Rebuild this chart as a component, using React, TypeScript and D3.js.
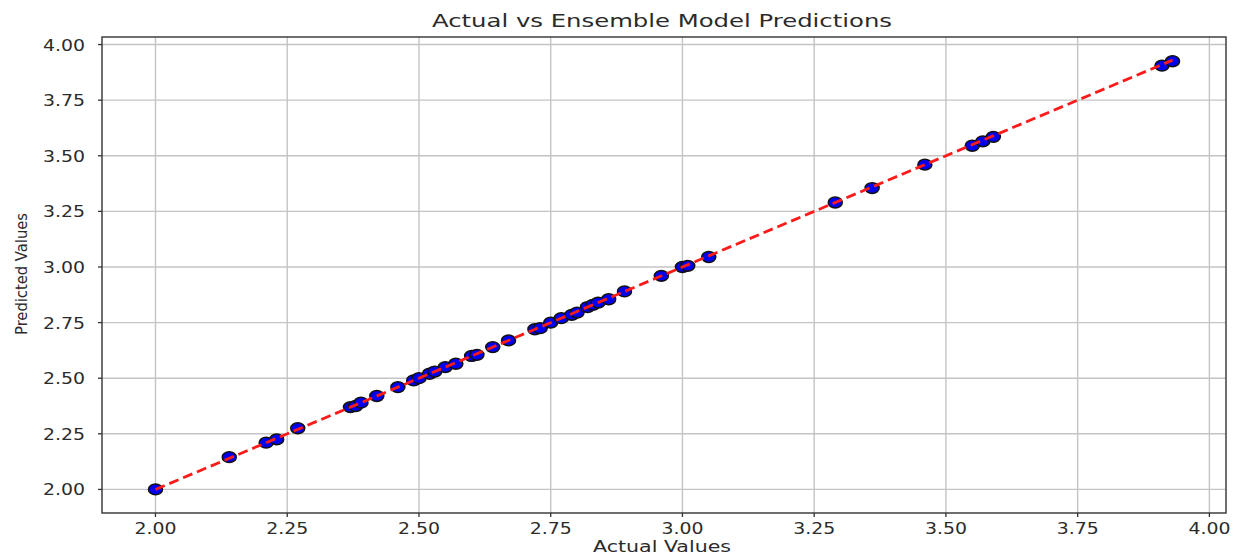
import React from "react";
import * as d3 from "d3";

const actual = [
  2.0, 2.14, 2.21, 2.23, 2.27, 2.37, 2.38, 2.39, 2.42, 2.46, 2.49, 2.5, 2.52, 2.53,
  2.55, 2.57, 2.6, 2.61, 2.64, 2.67, 2.72, 2.73, 2.75, 2.77, 2.79, 2.8, 2.82, 2.83,
  2.84, 2.86, 2.89, 2.96, 3.0, 3.01, 3.05, 3.29, 3.36, 3.46, 3.55, 3.57, 3.59, 3.91, 3.93,
];
const predicted = [
  2.0, 2.145, 2.21, 2.225, 2.275, 2.37, 2.375, 2.39, 2.42, 2.46, 2.49, 2.5, 2.52, 2.53,
  2.55, 2.565, 2.6, 2.605, 2.64, 2.67, 2.72, 2.725, 2.75, 2.77, 2.785, 2.795, 2.82, 2.83,
  2.84, 2.855, 2.89, 2.96, 3.0, 3.005, 3.045, 3.29, 3.355, 3.46, 3.545, 3.565, 3.585, 3.905, 3.925,
];
const xTicks = [2.0, 2.25, 2.5, 2.75, 3.0, 3.25, 3.5, 3.75, 4.0];
const yTicks = [2.0, 2.25, 2.5, 2.75, 3.0, 3.25, 3.5, 3.75, 4.0];

const W = 1236;
const H = 557;
const left = 102;
const right = 1226;
const top = 37;
const bottom = 513;

export default function App() {
  const x = d3.scaleLinear().domain([1.8985, 4.0315]).range([left, right]);
  const y = d3.scaleLinear().domain([1.894, 4.034]).range([bottom, top]);
  const lo = d3.min(actual) as number;
  const hi = d3.max(actual) as number;
  const line = d3.line<number>().x((d) => x(d)).y((d) => y(d))([lo, hi]) || "";
  const font = "DejaVu Sans, sans-serif";
  const ink = "#2b2b2b";

  return (
    <svg width={W} height={H} style={{ position: "absolute", left: 0, top: 0, background: "#fff" }}>
      {/* grid */}
      {xTicks.map((t) => (
        <line key={"gx" + t} x1={x(t)} x2={x(t)} y1={top} y2={bottom} stroke="#c4c4c4" strokeWidth={1.4} />
      ))}
      {yTicks.map((t) => (
        <line key={"gy" + t} x1={left} x2={right} y1={y(t)} y2={y(t)} stroke="#c4c4c4" strokeWidth={1.4} />
      ))}
      {/* points */}
      {actual.map((a, i) => (
        <ellipse key={i} cx={x(a)} cy={y(predicted[i])} rx={7} ry={5.4} fill="#0000f0" stroke="#111" strokeWidth={1.5} />
      ))}
      {/* ideal line */}
      <path d={line} stroke="#ff1a1a" strokeWidth={2.8} strokeDasharray="10,5" fill="none" />
      {/* frame */}
      <rect x={left} y={top} width={right - left} height={bottom - top} fill="none" stroke="#333" strokeWidth={1.4} />
      {/* ticks */}
      {xTicks.map((t) => (
        <g key={"tx" + t}>
          <line x1={x(t)} x2={x(t)} y1={bottom} y2={bottom + 4} stroke="#333" strokeWidth={1.3} />
          <text x={x(t)} y={534} textAnchor="middle" fontFamily={font} fontSize={16} fill={ink}
            textLength={42} lengthAdjust="spacingAndGlyphs">
            {t.toFixed(2)}
          </text>
        </g>
      ))}
      {yTicks.map((t) => (
        <g key={"ty" + t}>
          <line x1={left - 4} x2={left} y1={y(t)} y2={y(t)} stroke="#333" strokeWidth={1.3} />
          <text x={85} y={y(t) + 6} textAnchor="end" fontFamily={font} fontSize={16} fill={ink}
            textLength={42} lengthAdjust="spacingAndGlyphs">
            {t.toFixed(2)}
          </text>
        </g>
      ))}
      {/* labels */}
      <text x={662} y={27} textAnchor="middle" fontFamily={font} fontSize={18} fill={ink}
        textLength={460} lengthAdjust="spacingAndGlyphs">
        Actual vs Ensemble Model Predictions
      </text>
      <text x={662} y={552} textAnchor="middle" fontFamily={font} fontSize={16} fill={ink}
        textLength={138} lengthAdjust="spacingAndGlyphs">
        Actual Values
      </text>
      <text
        transform="translate(27,274) rotate(-90)"
        textAnchor="middle"
        fontFamily={font}
        fontSize={16}
        fill={ink}
        textLength={122}
        lengthAdjust="spacingAndGlyphs"
      >
        Predicted Values
      </text>
    </svg>
  );
}
